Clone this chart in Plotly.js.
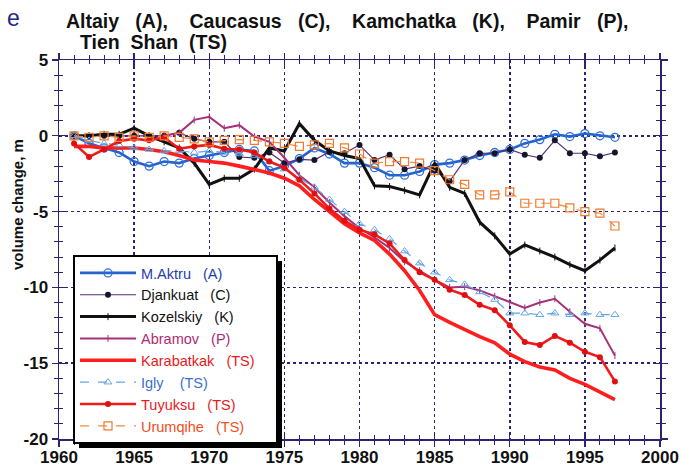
<!DOCTYPE html>
<html>
<head>
<meta charset="utf-8">
<script src="https://cdn.plot.ly/plotly-3.0.1.min.js"></script>
<style>html,body{margin:0;padding:0;background:#fff;}#chart{width:681px;height:474px;}</style>
</head>
<body>
<div id="chart"></div>
<script>
// ---- data ----
const years = [1961,1962,1963,1964,1965,1966,1967,1968,1969,1970,1971,1972,1973,1974,1975,1976,1977,1978,1979,1980,1981,1982,1983,1984,1985,1986,1987,1988,1989,1990,1991,1992,1993,1994,1995,1996,1997];
const yearsAbramov = [1967,1968,1969,1970,1971,1972,1973,1974,1975,1976,1977,1978,1979,1980,1981,1982,1983,1984,1985,1986,1987,1988,1989,1990,1991,1992,1993,1994,1995,1996,1997];

const mAktru     = [0,-0.5,-0.8,-1.1,-1.7,-2.0,-1.7,-1.8,-1.5,-1.3,-1.1,-0.9,-1.0,-2.3,-2.0,-1.5,-0.8,-1.2,-1.8,-1.8,-2.1,-2.6,-2.6,-2.35,-1.9,-1.8,-1.6,-1.3,-1.1,-0.9,-0.5,-0.25,0.1,-0.05,0.15,0,-0.1];
const djankuat   = [0,0,0,0,0,0,0,0.2,-0.2,-0.4,-0.4,-1.4,-1.45,-1.1,-1.8,-1.55,-1.6,-1.05,-1.15,-0.6,-1.6,-1.25,-2.2,-2.0,-2.3,-3.0,-1.6,-1.15,-1.15,-0.9,-1.25,-1.45,-0.3,-1.15,-1.15,-1.35,-1.1];
const kozelskiy  = [0,0,0.1,0.1,0.5,0,-0.4,-0.8,-1.8,-3.2,-2.8,-2.8,-2.2,-0.8,-1.0,0.8,-0.3,-1.0,-1.3,-1.5,-3.3,-3.35,-3.6,-3.9,-1.8,-3.4,-3.8,-5.7,-6.6,-7.8,-7.2,-7.6,-8.0,-8.5,-8.9,-8.2,-7.4];
const abramov    = [0,0.2,1.05,1.25,0.5,0.7,-0.05,-0.4,-1.45,-2.6,-3.4,-4.4,-5.3,-6.1,-6.7,-7.4,-8.3,-8.9,-9.5,-10.0,-9.95,-10.2,-10.6,-11.0,-11.35,-11.0,-10.75,-11.6,-12.4,-12.7,-14.5];
const karabatkak = [-0.7,-0.7,-0.8,-0.8,-0.8,-0.9,-1.05,-1.3,-1.6,-1.7,-1.8,-2.0,-2.2,-2.45,-2.8,-3.3,-4.2,-5.0,-5.8,-6.4,-6.9,-7.8,-8.9,-10.2,-11.8,-12.3,-12.8,-13.25,-13.65,-14.4,-14.9,-15.25,-15.45,-16.0,-16.4,-16.9,-17.4];
const igly       = [0,-0.3,-0.5,-0.6,-0.8,-0.9,-1.0,-1.0,-1.1,-1.0,-1.1,-1.2,-1.3,-1.7,-2.2,-2.8,-3.4,-4.2,-5.0,-5.8,-6.2,-6.8,-7.6,-8.4,-9.0,-9.5,-9.8,-10.3,-10.8,-11.7,-11.7,-11.8,-11.7,-11.8,-11.7,-11.8,-11.8];
const tuyuksu    = [-0.5,-1.4,-0.9,-0.35,-0.2,-0.3,-0.1,-0.85,-0.7,-0.6,-0.85,-0.9,-1.1,-1.7,-2.1,-2.9,-3.8,-4.8,-5.6,-6.2,-6.5,-7.1,-8.2,-9.0,-9.5,-10.15,-10.5,-11.15,-11.5,-12.5,-13.6,-13.8,-13.2,-13.65,-14.25,-14.6,-16.2];
const urumqihe   = [0,-0.1,0,-0.1,0,-0.1,0,-0.1,-0.2,-0.4,-0.3,-0.25,-0.3,-0.4,-0.5,-0.7,-0.6,-0.5,-0.8,-1.2,-1.8,-1.7,-1.7,-1.8,-2.3,-2.9,-3.2,-3.9,-3.9,-3.7,-4.45,-4.45,-4.45,-4.75,-5.0,-5.1,-5.95];

const G = '\u00a0\u00a0\u00a0';
const seriesNames = ['M.Aktru'+G+'(A)','Djankuat'+G+'(C)','Kozelskiy'+G+'(K)','Abramov'+G+'(P)','Karabatkak'+G+'(TS)','Igly'+G+'\u00a0(TS)','Tuyuksu'+G+'(TS)','Urumqihe'+G+'(TS)'];
const yTickVals = [-20,-15,-10,-5,0,5];
const yTickText = ['-20','-15','-10','-5','0','5'];
const xTickVals = [1960,1965,1970,1975,1980,1985,1990,1995,2000];
const xTickText = ['1960','1965','1970','1975','1980','1985','1990','1995','2000'];
const S2 = '\u00a0\u00a0', S3 = '\u00a0\u00a0\u00a0', S4 = '\u00a0\u00a0\u00a0\u00a0';
const titleLine1 = 'Altaiy'+S3+'(A),'+S4+'Caucasus'+S3+'(C),'+S4+'Kamchatka'+S3+'(K),'+S4+'Pamir'+S3+'(P),';
const titleLine2 = 'Tien'+S2+'Shan'+S2+'(TS)';
const panelLabel = 'e';
const yTitle = 'volume change, m';

// ---- styling ----
const AX = '#2e2370';
const FONT = 'Liberation Sans, Arial, Helvetica, sans-serif';
const PAD = '\u00a0\u00a0\u00a0\u00a0';
function nm(i, c){ return '<span style="color:'+c+'">'+seriesNames[i]+'</span>'+PAD; }

const traces = [
  {x: years, y: mAktru, name: nm(0,'#1d3fa8'), mode:'lines+markers',
   line:{color:'#2462cc', width:2.6}, marker:{symbol:'circle-open', size:8, color:'#2f6fd6', line:{width:1.3}}},
  {x: years, y: djankuat, name: nm(1,'#111'), mode:'lines+markers',
   line:{color:'#5a2f7a', width:1.2}, marker:{symbol:'circle', size:6, color:'#15152e'}},
  {x: years, y: kozelskiy, name: nm(2,'#111'), mode:'lines+markers',
   line:{color:'#111', width:3}, marker:{symbol:'line-ns', size:5, color:'#111', line:{width:1, color:'#111'}}},
  {x: yearsAbramov, y: abramov, name: nm(3,'#b02a72'), mode:'lines+markers',
   line:{color:'#a4317a', width:2}, marker:{symbol:'line-ns', size:5, color:'#a4317a', line:{width:1, color:'#a4317a'}}},
  {x: years, y: karabatkak, name: nm(4,'#e8191b'), mode:'lines',
   line:{color:'#ff1e1e', width:3.6}},
  {x: years, y: igly, name: nm(5,'#3a6fd0'), mode:'lines+markers',
   line:{color:'#62a4e6', width:1.2, dash:'dash'}, marker:{symbol:'triangle-up-open', size:7, color:'#62a4e6', line:{width:1}}},
  {x: years, y: tuyuksu, name: nm(6,'#e8191b'), mode:'lines+markers',
   line:{color:'#f01a1a', width:2.6}, marker:{symbol:'circle', size:6, color:'#e01010'}},
  {x: years, y: urumqihe, name: nm(7,'#f0501a'), mode:'lines+markers',
   line:{color:'#f08a40', width:1.2, dash:'dash'}, marker:{symbol:'square-open', size:8, color:'#f07a30', line:{width:1.2}}},
  {x:[1960], y:[-20], xaxis:'x2', yaxis:'y2', mode:'markers', marker:{opacity:0}, showlegend:false, hoverinfo:'skip'}
];

const tickFont = {family: FONT, size: 17, color: '#111', weight: 'bold'};
const layout = {
  width: 681, height: 474,
  margin: {l: 59, r: 21, t: 60, b: 35},
  paper_bgcolor: '#fff', plot_bgcolor: '#fff',
  showlegend: true,
  xaxis: {range:[1960,2000], tickvals: xTickVals, ticktext: xTickText, ticks:'outside', ticklen:6, tickwidth:1.3, tickcolor:AX,
          showline:true, linecolor:AX, linewidth:1.5, mirror:'ticks', showgrid:true, gridcolor:AX, gridwidth:1.5, griddash:'dot',
          zeroline:false, tickfont: tickFont, ticklabelstandoff: -4,
          minor:{dtick:1, tick0:1960, ticks:'outside', ticklen:4, tickwidth:1, tickcolor:AX, showgrid:false}},
  xaxis2: {range:[1960,2000], overlaying:'x', tickvals: xTickVals, ticks:'inside', ticklen:6, tickwidth:1.3, tickcolor:AX,
          showline:false, mirror:'ticks', showgrid:false, zeroline:false, showticklabels:false,
          minor:{dtick:1, tick0:1960, ticks:'inside', ticklen:4, tickwidth:1, tickcolor:AX, showgrid:false}},
  yaxis: {range:[-20,5], tickvals: yTickVals, ticktext: yTickText, ticks:'outside', ticklen:6, tickwidth:1.3, tickcolor:AX,
          showline:true, linecolor:AX, linewidth:1.5, mirror:'ticks', showgrid:true, gridcolor:AX, gridwidth:1.5, griddash:'dot',
          zeroline:false, tickfont: tickFont,
          minor:{dtick:1, tick0:0, ticks:'outside', ticklen:4, tickwidth:1, tickcolor:AX, showgrid:false}},
  yaxis2: {range:[-20,5], overlaying:'y', tickvals: yTickVals, ticks:'inside', ticklen:6, tickwidth:1.3, tickcolor:AX,
          showline:false, mirror:'ticks', showgrid:false, zeroline:false, showticklabels:false,
          minor:{dtick:1, tick0:0, ticks:'inside', ticklen:4, tickwidth:1, tickcolor:AX, showgrid:false}},
  legend: {x: 0.0233, y: 0.4855, xanchor:'left', yanchor:'top', bgcolor:'#fff', bordercolor:'#000', borderwidth:2,
           itemwidth: 56,
           font:{family: FONT, size: 14.5, color:'#111'}, tracegroupgap: 0},
  shapes: [],
  annotations: [
    {text: panelLabel, xref:'paper', yref:'paper', x:(5-59)/601, y:(439-18)/379, xanchor:'left', yanchor:'middle', showarrow:false,
     font:{family: FONT, size: 23, color:'#1d2a80'}},
    {text: titleLine1, xref:'paper', yref:'paper', x:(64-59)/601, y:(439-21)/379, xanchor:'left', yanchor:'middle', showarrow:false,
     font:{family: FONT, size: 19.5, color:'#111', weight:'bold'}},
    {text: titleLine2, xref:'paper', yref:'paper', x:(78-59)/601, y:(439-42)/379, xanchor:'left', yanchor:'middle', showarrow:false,
     font:{family: FONT, size: 19.5, color:'#111', weight:'bold'}},
    {text: yTitle, xref:'paper', yref:'paper', x:(18-59)/601, y:(439-205)/379, xanchor:'center', yanchor:'middle', showarrow:false,
     textangle:-90, font:{family: FONT, size: 15, color:'#111', weight:'bold'}}
  ]
};

Plotly.newPlot('chart', traces, layout, {displayModeBar:false, staticPlot:true}).then(function(gd){
  // drop shadow behind the legend box, placed from the legend's drawn size
  var bg = gd.querySelector('g.legend rect.bg');
  if (!bg) return;
  var b = bg.getBoundingClientRect(), c = gd.getBoundingClientRect();
  var L = b.left - c.left, T = b.top - c.top, R = b.right - c.left, B = b.bottom - c.top, off = 5;
  var fs = gd._fullLayout._size;
  return Plotly.relayout(gd, {shapes: [{type:'rect', xref:'paper', yref:'paper', layer:'above',
    x0:(L + off - fs.l)/fs.w, x1:(R + off - fs.l)/fs.w,
    y0:(fs.t + fs.h - (B + off))/fs.h, y1:(fs.t + fs.h - (T + off))/fs.h,
    fillcolor:'#000', line:{width:0}}]});
});
</script>
</body>
</html>
